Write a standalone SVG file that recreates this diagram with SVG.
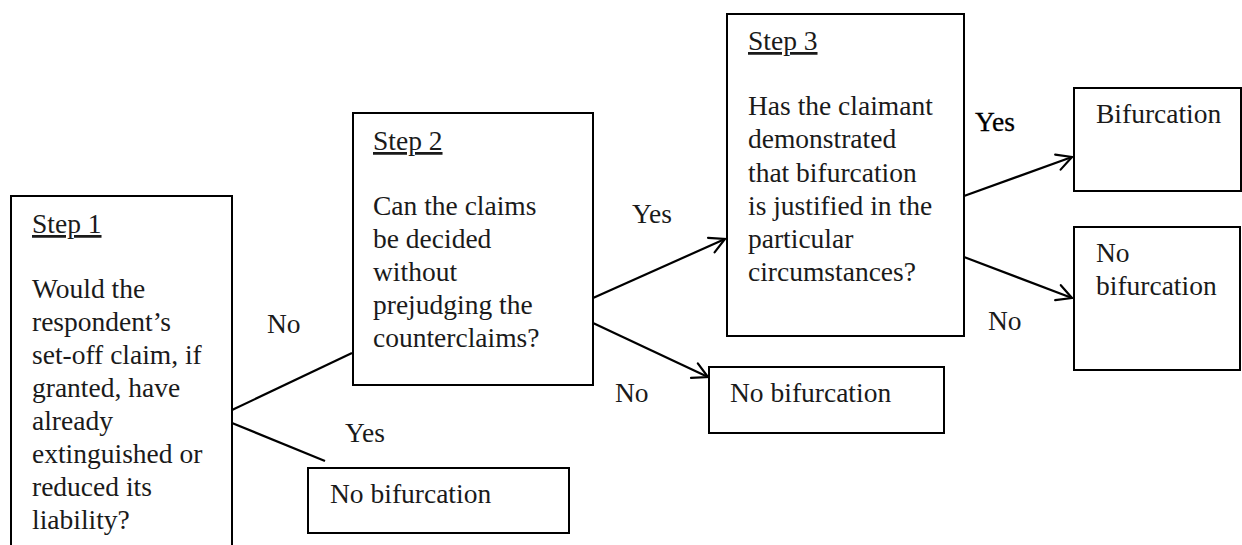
<svg xmlns="http://www.w3.org/2000/svg" width="1242" height="545" viewBox="0 0 1242 545">
<style>
.box{fill:#fff;stroke:#000;stroke-width:2}
.u{text-decoration:underline}
.c{stroke:#000;stroke-width:2.2;fill:none}
</style>
<defs>
<marker id="arr" markerUnits="userSpaceOnUse" markerWidth="30" markerHeight="30" viewBox="-20 -15 30 30" refX="0" refY="0" orient="auto">
<path d="M -15 -8 L 0 0 L -15 8" fill="none" stroke="#000" stroke-width="2.2" stroke-linecap="round" stroke-linejoin="miter"/>
</marker>
</defs>
<rect width="1242" height="545" fill="#fff"/>
<g font-family="Liberation Serif, Times New Roman, Times, serif" font-size="27.5" fill="#1a1a1a">
<g id="connectors">
<line class="c" x1="232" y1="410" x2="352" y2="353"/>
<line class="c" x1="232" y1="423" x2="325" y2="461"/>
<line class="c" x1="593" y1="298" x2="725" y2="239" marker-end="url(#arr)"/>
<line class="c" x1="593" y1="323" x2="708" y2="377" marker-end="url(#arr)"/>
<line class="c" x1="964" y1="196" x2="1072" y2="157" marker-end="url(#arr)"/>
<line class="c" x1="964" y1="257" x2="1072" y2="298" marker-end="url(#arr)"/>
<text x="267" y="333">No</text>
<text x="345" y="442">Yes</text>
<text x="632" y="223">Yes</text>
<text x="615" y="402">No</text>
<text x="975" y="131" fill="#000" stroke="#000" stroke-width="0.3">Yes</text>
<text x="988" y="330">No</text>
</g>
<g id="step1">
<path class="box" d="M 11 560 L 11 196 L 232 196 L 232 560"/>
<text class="u" x="32" y="233">Step 1</text>
<text x="32" y="298">Would the</text>
<text x="32" y="331">respondent’s</text>
<text x="32" y="364">set-off claim, if</text>
<text x="32" y="397">granted, have</text>
<text x="32" y="430">already</text>
<text x="32" y="463">extinguished or</text>
<text x="32" y="496">reduced its</text>
<text x="32" y="529">liability?</text>
</g>
<g id="step2">
<rect class="box" x="353" y="113" width="240" height="272"/>
<text class="u" x="373" y="150">Step 2</text>
<text x="373" y="215">Can the claims</text>
<text x="373" y="248">be decided</text>
<text x="373" y="281">without</text>
<text x="373" y="314">prejudging the</text>
<text x="373" y="347">counterclaims?</text>
</g>
<g id="step3">
<rect class="box" x="727" y="14" width="237" height="322"/>
<text class="u" x="748" y="50">Step 3</text>
<text x="748" y="115">Has the claimant</text>
<text x="748" y="148">demonstrated</text>
<text x="748" y="182">that bifurcation</text>
<text x="748" y="215">is justified in the</text>
<text x="748" y="248">particular</text>
<text x="748" y="281">circumstances?</text>
</g>
<g id="bifurcation">
<rect class="box" x="1074" y="88" width="167" height="103"/>
<text x="1096" y="123">Bifurcation</text>
</g>
<g id="no-bifurcation-3">
<rect class="box" x="1074" y="227" width="166" height="143"/>
<text x="1096" y="262">No</text>
<text x="1096" y="295">bifurcation</text>
</g>
<g id="no-bifurcation-2">
<rect class="box" x="709" y="367" width="235" height="66"/>
<text x="730" y="402">No bifurcation</text>
</g>
<g id="no-bifurcation-1">
<rect class="box" x="308" y="468" width="261" height="65"/>
<text x="330" y="503">No bifurcation</text>
</g>
</g>
</svg>
